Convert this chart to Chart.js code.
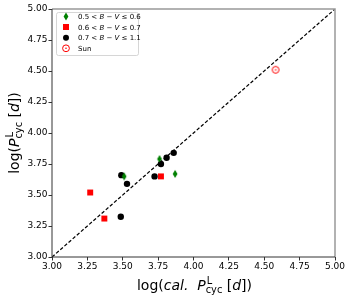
<!DOCTYPE html>
<html>
<head>
<meta charset="utf-8">
<script src="https://cdn.jsdelivr.net/npm/chart.js@4/dist/chart.umd.min.js"></script>
<style>
  html, body { margin: 0; padding: 0; background: #fff; }
  #wrap { width: 350px; height: 300px; }
</style>
</head>
<body>
<div id="wrap"><canvas id="periodChart" width="350" height="300"></canvas></div>
<script>
// calculated log P vs observed log P, by B-V group
const greenCal = [3.51, 3.76, 3.87];
const greenObs = [3.65, 3.79, 3.67];
const redCal = [3.27, 3.37, 3.77];
const redObs = [3.52, 3.31, 3.65];
const blackCal = [3.49, 3.53, 3.486, 3.725, 3.77, 3.81, 3.86];
const blackObs = [3.66, 3.59, 3.325, 3.65, 3.75, 3.80, 3.84];
const sunCal = [4.58];
const sunObs = [4.51];
const axisTicks = [3.00, 3.25, 3.50, 3.75, 4.00, 4.25, 4.50, 4.75, 5.00];
const legendLabels = [
    [['0.5 < ', 0], ['B', 1], [' − ', 0], ['V', 1], [' ≤ 0.6', 0]],
    [['0.6 < ', 0], ['B', 1], [' − ', 0], ['V', 1], [' ≤ 0.7', 0]],
    [['0.7 < ', 0], ['B', 1], [' − ', 0], ['V', 1], [' ≤ 1.1', 0]],
    [['Sun', 0]]
];

const FONT = 'DejaVu Sans';

function pts(xs, ys) {
    return xs.map((x, i) => ({ x: x, y: ys[i] }));
}

// thin diamond marker like matplotlib 'd'
function drawThinDiamond(c, x, y) {
    c.beginPath();
    c.moveTo(x, y - 4);
    c.lineTo(x + 2.4, y);
    c.lineTo(x, y + 4);
    c.lineTo(x - 2.4, y);
    c.closePath();
    c.fillStyle = 'green';
    c.fill();
}
function drawSun(c, x, y) {
    c.beginPath();
    c.arc(x, y, 3.4, 0, Math.PI * 2);
    c.strokeStyle = 'red';
    c.lineWidth = 1;
    c.stroke();
    c.beginPath();
    c.arc(x, y, 0.8, 0, Math.PI * 2);
    c.fillStyle = 'red';
    c.fill();
}
function makeImg(fn) {
    const cv = document.createElement('canvas');
    cv.width = 10; cv.height = 10;
    fn(cv.getContext('2d'), 5, 5);
    return cv;
}
const diamondImg = makeImg(drawThinDiamond);
const sunImg = makeImg(drawSun);

// text with italic parts, sub/superscripts
function richWidth(c, parts, size) {
    let w = 0;
    parts.forEach(p => {
        if (p.sup !== undefined) {
            c.font = (size * 0.7) + 'px "' + FONT + '"';
            w += Math.max(c.measureText(p.sup).width + 1, c.measureText(p.sub).width);
        } else {
            c.font = (p.i ? 'italic ' : '') + size + 'px "' + FONT + '"';
            w += c.measureText(p.t).width;
        }
    });
    return w;
}
function drawRich(c, parts, x, y, size, center) {
    let cx = center ? x - richWidth(c, parts, size) / 2 : x;
    c.textBaseline = 'alphabetic';
    c.textAlign = 'left';
    parts.forEach(p => {
        if (p.sup !== undefined) {
            c.font = (size * 0.7) + 'px "' + FONT + '"';
            c.fillText(p.sup, cx + 1, y - size * 0.42);
            c.fillText(p.sub, cx, y + size * 0.22);
            cx += Math.max(c.measureText(p.sup).width + 1, c.measureText(p.sub).width);
        } else {
            c.font = (p.i ? 'italic ' : '') + size + 'px "' + FONT + '"';
            c.fillText(p.t, cx, y);
            cx += c.measureText(p.t).width;
        }
    });
}

const xTitle = [{ t: 'log(' }, { t: 'cal.', i: 1 }, { t: '  ' }, { t: 'P', i: 1 }, { sup: 'L', sub: 'cyc' },
    { t: ' [' }, { t: 'd', i: 1 }, { t: '])' }];
const yTitle = [{ t: 'log(' }, { t: 'P', i: 1 }, { sup: 'L', sub: 'cyc' }, { t: ' [' }, { t: 'd', i: 1 }, { t: '])' }];

const extras = {
    id: 'extras',
    afterDraw(chart) {
        const c = chart.ctx;
        const a = chart.chartArea;
        c.save();
        // frame
        c.strokeStyle = '#999';
        c.lineWidth = 1.5;
        c.beginPath();
        c.moveTo(a.left, a.top);
        c.lineTo(a.right, a.top);
        c.lineTo(a.right, a.bottom);
        c.stroke();
        c.strokeStyle = '#333';
        c.lineWidth = 1;
        c.beginPath();
        c.moveTo(a.left, a.top);
        c.lineTo(a.left, a.bottom);
        c.lineTo(a.right, a.bottom);
        c.stroke();

        c.fillStyle = '#000';
        drawRich(c, xTitle, (a.left + a.right) / 2 + 1, 290, 14, true);
        c.save();
        c.translate(19, (a.top + a.bottom) / 2);
        c.rotate(-Math.PI / 2);
        drawRich(c, yTitle, 0, 0, 14, true);
        c.restore();

        // legend
        const lx = 56, ly = 12;
        c.fillStyle = 'rgba(255,255,255,0.85)';
        c.strokeStyle = '#ccc';
        c.lineWidth = 0.8;
        c.beginPath();
        c.roundRect(lx + 0.5, ly + 0.5, 82, 43, 2);
        c.fill();
        c.stroke();
        const rows = [16.5, 27, 37.7, 48.3];
        drawThinDiamond(c, 66, rows[0]);
        c.fillStyle = 'red';
        c.fillRect(63, rows[1] - 3, 6, 6);
        c.fillStyle = '#000';
        c.beginPath();
        c.arc(66, rows[2], 3, 0, Math.PI * 2);
        c.fill();
        drawSun(c, 66, rows[3]);
        c.fillStyle = '#000';
        legendLabels.forEach((lab, i) => {
            drawRich(c, lab.map(p => ({ t: p[0], i: p[1] })), 78, rows[i] + 2.5, 7, false);
        });
        c.restore();
    }
};

const axisOpts = {
    type: 'linear',
    min: 3,
    max: 5,
    grid: { display: true, drawOnChartArea: false, drawTicks: true, tickLength: 3.5, color: '#333' },
    border: { display: false },
    ticks: {
        stepSize: 0.25,
        color: '#000',
        font: { family: FONT, size: 9 },
        padding: 1,
        maxRotation: 0,
        autoSkip: false,
        callback: v => axisTicks.includes(v) ? v.toFixed(2) : ''
    }
};

new Chart(document.getElementById('periodChart'), {
    type: 'scatter',
    data: {
        datasets: [
            { label: 'one-to-one', type: 'line', data: [{ x: 3, y: 3 }, { x: 5, y: 5 }],
              borderColor: '#000', borderWidth: 1.2, borderDash: [3.5, 2], pointRadius: 0, fill: false },
            { label: '0.5-0.6', data: pts(greenCal, greenObs), pointStyle: diamondImg, pointRadius: 5 },
            { label: '0.6-0.7', data: pts(redCal, redObs), pointStyle: 'rect', pointRadius: 4.2,
              backgroundColor: 'red', borderColor: 'red', borderWidth: 0 },
            { label: '0.7-1.1', data: pts(blackCal, blackObs), pointStyle: 'circle', pointRadius: 3.2,
              backgroundColor: '#000', borderColor: '#000', borderWidth: 0 },
            { label: 'Sun', data: pts(sunCal, sunObs), pointStyle: sunImg, pointRadius: 5 }
        ]
    },
    options: {
        responsive: false,
        animation: false,
        layout: { padding: { top: 9, right: 15, left: 0, bottom: 0 } },
        plugins: { legend: { display: false }, tooltip: { enabled: false } },
        scales: {
            x: Object.assign({}, axisOpts, {
                afterFit: s => { s.height = 43; }
            }),
            y: Object.assign({}, axisOpts, {
                afterFit: s => { s.width = 52; }
            })
        }
    },
    plugins: [extras]
});
</script>
</body>
</html>
